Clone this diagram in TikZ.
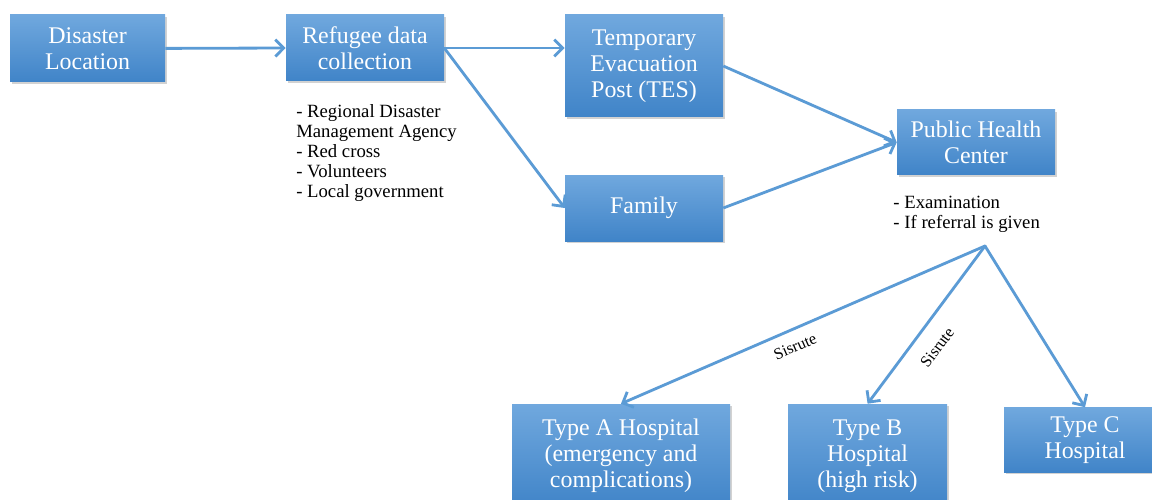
\documentclass[tikz,border=0pt]{standalone}
\usepackage{fontspec}
\setmainfont{Liberation Serif}
\usetikzlibrary{arrows.meta,shadows}

\definecolor{boxtop}{RGB}{112,168,222}
\definecolor{boxbot}{RGB}{64,132,200}
\definecolor{flowblue}{RGB}{91,155,213}

\tikzset{
  stepbox/.style={top color=boxtop, bottom color=boxbot, draw=none,
    drop shadow={shadow xshift=1.2pt, shadow yshift=-1.2pt, opacity=0.35},
    text=white, align=center, inner sep=2pt,
    font=\fontsize{17}{18.6}\selectfont},
  flow/.style={draw=flowblue, line width=2pt,
    -{Straight Barb[length=6pt,width=12pt]}},
  notes/.style={align=left, anchor=north west, inner sep=0pt,
    font=\fontsize{13.3}{14.3}\selectfont},
  tag/.style={font=\fontsize{11.5}{12}\selectfont, inner sep=7pt}
}

\begin{document}
\begin{tikzpicture}
    \clip (0,0) rectangle (28.8,-12.5);
    \fill[white] (0,0) rectangle (28.8,-12.5);

    % first row
    \node[stepbox, minimum width=3.875cm, minimum height=1.675cm] (loc) at (2.19,-1.21) {Disaster\\Location};
    \node[stepbox, minimum width=3.95cm, minimum height=1.65cm] (collect) at (9.125,-1.2) {Refugee data\\collection};
    \node[stepbox, minimum width=3.95cm, minimum height=2.55cm] (tes) at (16.1,-1.65) {Temporary\\Evacuation\\Post (TES)};
    \node[stepbox, minimum width=3.95cm, minimum height=1.65cm] (family) at (16.1,-5.2) {Family};
    \node[stepbox, minimum width=3.95cm, minimum height=1.625cm] (phc) at (24.4,-3.56) {Public Health\\Center};

    % notes
    \node[notes] (agencies) at (7.4,-2.6) {- Regional Disaster\\Management Agency\\- Red cross\\- Volunteers\\- Local government};
    \node[notes] (exam) at (22.33,-4.9) {- Examination\\- If referral is given};

    % hospitals
    \node[stepbox, minimum width=5.45cm, minimum height=2.6cm] (hosa) at (15.525,-11.4) {Type A Hospital\\(emergency and\\complications)};
    \node[stepbox, minimum width=3.975cm, minimum height=2.6cm] (hosb) at (21.69,-11.4) {Type B\\Hospital\\(high risk)};
    \node[stepbox, minimum width=4.05cm, minimum height=1.625cm] (hosc) at (27.125,-11) {Type C\\Hospital};

    \coordinate (split) at (24.625,-6.15);

    % arrows
    \draw[flow] (loc.east) -- (collect.west);
    \draw[flow] (collect.east) -- (collect.east -| tes.west);
    \draw[flow] (collect.east) -- (family.west);
    \draw[flow] (tes.east) -- (phc.west);
    \draw[flow] (family.east) -- (phc.west);

    \draw[flow, line cap=round] (split) -- node[tag, sloped, below, pos=0.54] (srA) {Sisrute} (hosa.north);
    \draw[flow, line cap=round] (split) -- node[tag, sloped, below, pos=0.56, inner sep=11pt] (srB) {Sisrute} (hosb.north);
    \draw[flow, line cap=round] (split) -- (hosc.north);
\end{tikzpicture}
\end{document}
